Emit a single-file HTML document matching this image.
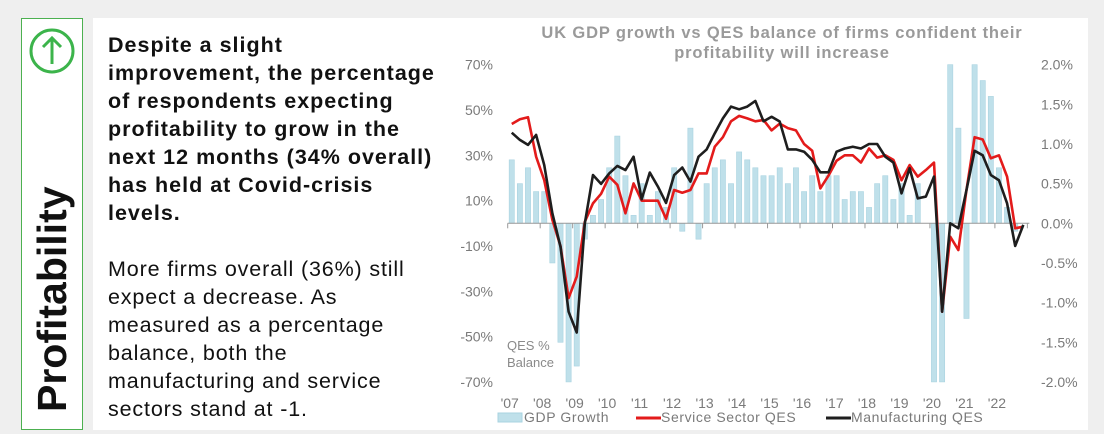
<!DOCTYPE html>
<html><head><meta charset="utf-8">
<style>
body{margin:0;width:1104px;height:434px;background:#efefef;position:relative;overflow:hidden;font-family:"Liberation Sans",sans-serif;}
#side{position:absolute;left:21px;top:18px;width:60px;height:410px;border:1.5px solid #4cb050;background:#fff;}
#panel{position:absolute;left:93px;top:18px;width:995px;height:412px;background:#fff;}
#bold{position:absolute;left:108px;top:31px;font-weight:bold;font-size:21.5px;letter-spacing:1.0px;line-height:28px;color:#111;white-space:nowrap;}
#norm{position:absolute;left:108px;top:255px;font-size:21.5px;letter-spacing:0.85px;line-height:28px;color:#111;white-space:nowrap;}
#vert{position:absolute;left:52px;top:412px;transform-origin:0 0;transform:rotate(-90deg) translate(0,-23px);font-weight:bold;font-size:41px;color:#111;white-space:nowrap;}
svg{position:absolute;left:0;top:0;}
</style></head><body>
<div id="side"></div>
<svg width="1104" height="434" style="z-index:2">
<circle cx="52" cy="51" r="21" fill="none" stroke="#3cb44b" stroke-width="3"/>
<line x1="52" y1="64" x2="52" y2="38" stroke="#3cb44b" stroke-width="3"/>
<polyline points="43,47 52,38 61,47" fill="none" stroke="#3cb44b" stroke-width="3"/>
</svg>
<div id="vert">Profitability</div>
<div id="panel"></div>
<div id="bold">Despite a slight<br>improvement, the percentage<br>of respondents expecting<br>profitability to grow in the<br>next 12 months (34% overall)<br>has held at Covid-crisis<br>levels.</div>
<div id="norm">More firms overall (36%) still<br>expect a decrease. As<br>measured as a percentage<br>balance, both the<br>manufacturing and service<br>sectors stand at -1.</div>
<svg id="chart" width="1104" height="434"></svg>
<script>
const years=["'07","'08","'09","'10","'11","'12","'13","'14","'15","'16","'17","'18","'19","'20","'21","'22"];
const leftTicks=[70,50,30,10,-10,-30,-50,-70];
const rightTicks=[2.0,1.5,1.0,0.5,0.0,-0.5,-1.0,-1.5,-2.0];
const gdp=[0.8,0.5,0.7,0.4, 0.4,-0.5,-1.5,-2.0, -1.8,-0.2,0.1,0.3, 0.7,1.1,0.6,0.1, 0.5,0.1,0.4,0.2, 0.7,-0.1,1.2,-0.2, 0.5,0.7,0.8,0.5, 0.9,0.8,0.7,0.6, 0.6,0.7,0.5,0.7, 0.4,0.6,0.4,0.6, 0.6,0.3,0.4,0.4, 0.2,0.5,0.6,0.3, 0.5,0.1,0.5,0.0, -2.0,-2.0,2.0,1.2, -1.2,2.0,1.8,1.6, 0.7,0.2,-0.1,0.0];
const service=[43.8,45.9,46.8,29.4, 19,1.5,-10,-33, -23.5,0.7,8.8,13, 20.6,17,4.4,17.6, 10,10,10,2, 14.7,13.5,14.7,22, 22,33.8,38,45, 47.4,46.3,45,45.6, 41,44,42,41, 35,32,15.4,21, 27.6,30,30,26.8, 33,29,30,28, 19,25.7,20.6,23.5, 26.8,-39,-5.9,-11.8, 14.7,38,37,28.7, 30,20.6,-2.2,-1.5];
const manuf=[40,36.8,34.6,39, 25.7,4.4,-10.3,-39, -48.2,0,21.3,17.4, 22,25.3,23.5,29.4, 10.6,22.4,16.2,9, 21.3,24.6,18.4,29.4, 32.6,39.7,46.3,51.5, 50.3,51.5,54,45, 47,44.9,32.6,32.6, 31.6,28,22.5,22.5, 31.6,33,33.8,33, 35,35,29.4,26.8, 13.2,24.3,11,11.8, 20.6,-39,0,-2.2, 14.7,32,30,21.3, 19,8.8,-10,-0.7];

const svg=document.getElementById('chart');const NS='http://www.w3.org/2000/svg';
const X0=507.7,QW=8.12,Y0=223.3,PX=2.266;
const xq=i=>X0+QW*(i+0.5);
const yL=v=>Y0-v*PX;
const yR=v=>Y0-v*PX*35;
function mk(t,a,p){const e=document.createElementNS(NS,t);for(const k in a)e.setAttribute(k,a[k]);(p||svg).appendChild(e);return e;}
let t=mk('text',{x:782,y:38,'text-anchor':'middle','font-size':'16.5','letter-spacing':'0.85','font-weight':'bold',fill:'#9a9a9a'});t.textContent='UK GDP growth vs QES balance of firms confident their';


t=mk('text',{x:782,y:58,'text-anchor':'middle','font-size':'16.5','letter-spacing':'0.85','font-weight':'bold',fill:'#9a9a9a'});t.textContent='profitability will increase';


gdp.forEach((v,i)=>{const y=yR(Math.max(v,0)),h=Math.abs(yR(v)-Y0);
const r=mk('rect',{x:xq(i)-2.6,y:y,width:5.2,height:h,fill:'#bfe0ea',stroke:'#a9d3e0','stroke-width':0.6});

});
let ax=mk('line',{x1:X0,y1:Y0,x2:X0+QW*64+2,y2:Y0,stroke:'#999','stroke-width':1});


for(let k=0;k<=16;k++){mk('line',{x1:X0+k*QW*4,y1:Y0,x2:X0+k*QW*4,y2:Y0+5,stroke:'#999'});}
function line(data,col,name){const p=mk('polyline',{points:data.map((v,i)=>xq(i)+','+yL(v)).join(' '),fill:'none',stroke:col,'stroke-width':2.6,'stroke-linejoin':'round'});

}
line(service,'#e31b1b','service-sector-line');
line(manuf,'#1e1e1e','manufacturing-line');
leftTicks.forEach(v=>{const e=mk('text',{x:493,y:yL(v)+5,'text-anchor':'end','font-size':'14',fill:'#7a7a7a'});e.textContent=v+'%';

});
rightTicks.forEach(v=>{const e=mk('text',{x:1041,y:yR(v)+5,'font-size':'14',fill:'#7a7a7a'});e.textContent=v.toFixed(1)+'%';

});
years.forEach((s,k)=>{const e=mk('text',{x:X0+k*QW*4+2,y:408,'text-anchor':'middle','font-size':'14',fill:'#7a7a7a'});e.textContent=s;

});
let q=mk('text',{x:507,y:350,'font-size':'13',fill:'#8a8a8a'});q.textContent='QES %';


q=mk('text',{x:507,y:367,'font-size':'13',fill:'#8a8a8a'});q.textContent='Balance';


let g=mk('g',{});
mk('rect',{x:498,y:413,width:24,height:9,fill:'#bfe0ea',stroke:'#a9d3e0'},g);
let l=mk('text',{x:524,y:422,'font-size':'14','letter-spacing':'0.6',fill:'#7a7a7a'},g);l.textContent='GDP Growth';
mk('line',{x1:636,y1:418,x2:661,y2:418,stroke:'#e31b1b','stroke-width':3},g);
l=mk('text',{x:661,y:422,'font-size':'14','letter-spacing':'0.6',fill:'#7a7a7a'},g);l.textContent='Service Sector QES';
mk('line',{x1:826,y1:418,x2:851,y2:418,stroke:'#1e1e1e','stroke-width':3},g);
l=mk('text',{x:851,y:422,'font-size':'14','letter-spacing':'0.6',fill:'#7a7a7a'},g);l.textContent='Manufacturing QES';
</script>
</body></html>
